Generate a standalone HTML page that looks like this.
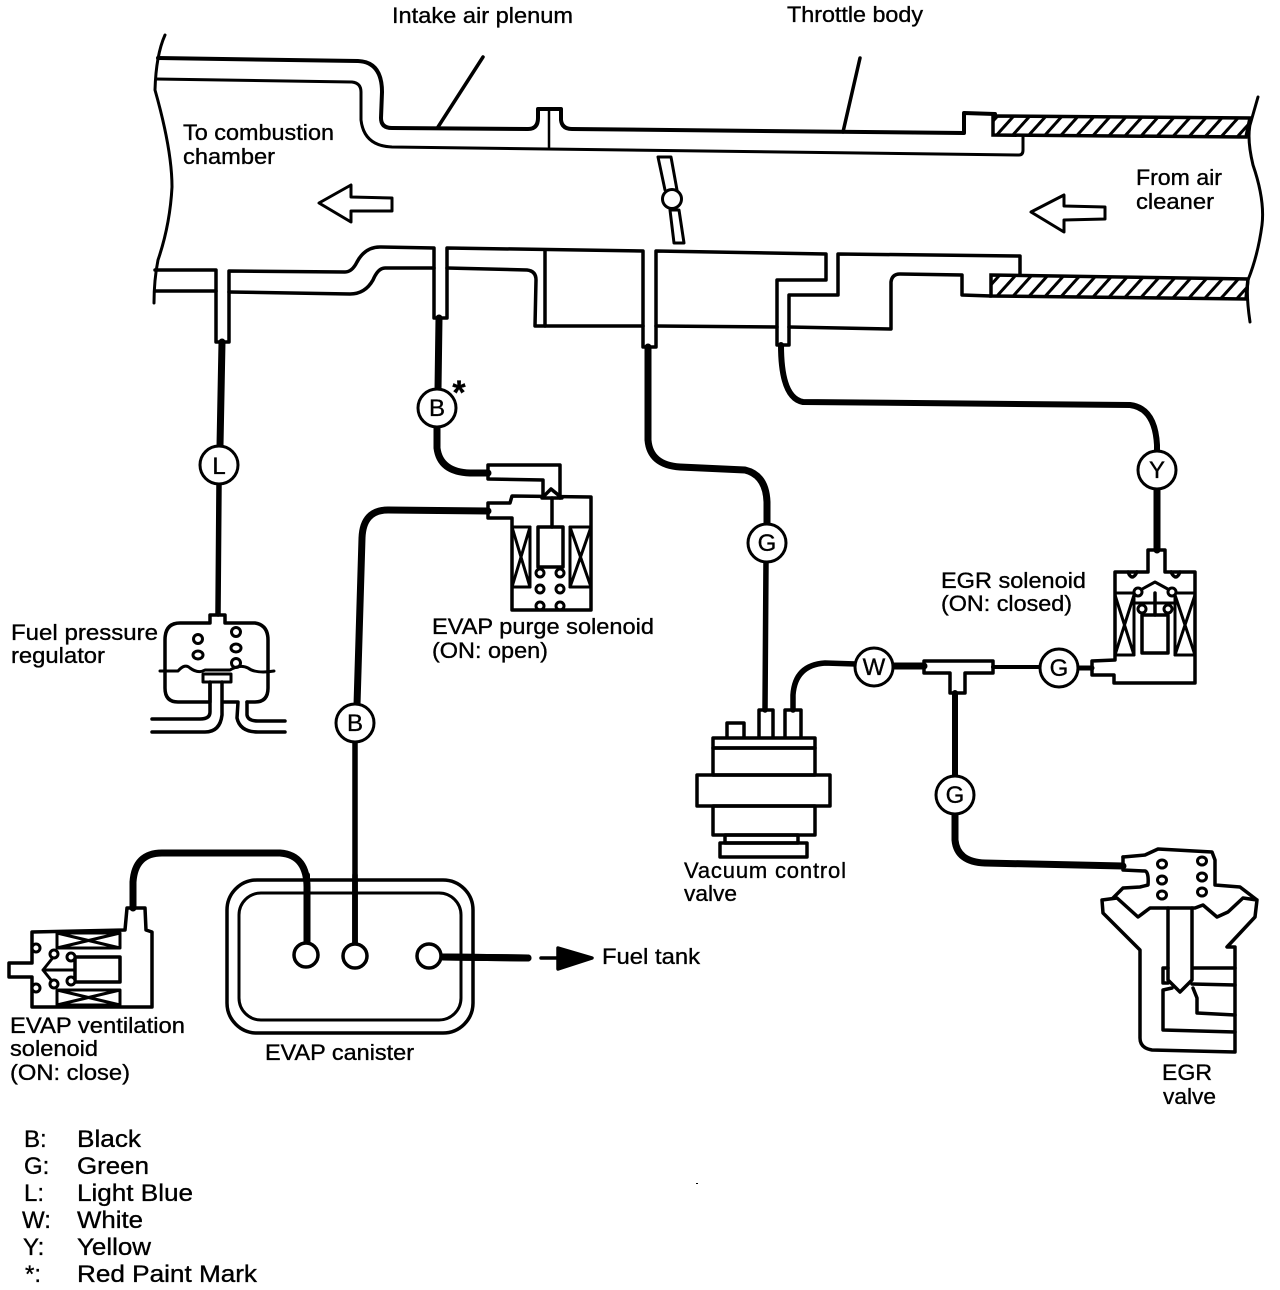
<!DOCTYPE html>
<html>
<head>
<meta charset="utf-8">
<style>
html,body{margin:0;padding:0;background:#fff;}
svg{display:block;}
text{font-family:"Liberation Sans",sans-serif;font-size:22px;fill:#000;stroke:#000;stroke-width:.35;}
.c text,text.c{text-anchor:middle;font-size:24px;}
</style>
</head>
<body>
<svg width="1280" height="1290" viewBox="0 0 1280 1290" xmlns="http://www.w3.org/2000/svg">
<defs>
<pattern id="h" width="12" height="12" patternUnits="userSpaceOnUse" patternTransform="rotate(42)">
<line x1="3" y1="0" x2="3" y2="12" stroke="#000" stroke-width="3"/>
</pattern>
</defs>
<rect width="1280" height="1290" fill="#fff"/>

<!-- Hatched duct -->
<path d="M993,116 L1250,118 L1246,137 L993,135Z" fill="url(#h)" stroke="#000" stroke-width="3.5"/>
<path d="M991,275 L1248,279 L1246,299 L991,296Z" fill="url(#h)" stroke="#000" stroke-width="3.5"/>

<g fill="none" stroke="#000" stroke-width="3.5" stroke-linejoin="round" stroke-linecap="round">
<!-- duct edges -->
<path d="M165,35 Q156,55 155,90 Q172,150 172,187 Q170,225 158,260 Q154,280 154,303" stroke-width="3"/>
<path d="M1258,97 L1250,125 Q1247,140 1253,165 Q1265,200 1262,225 Q1258,255 1248,280 Q1246,295 1250,322" stroke-width="3"/>
<!-- top wall -->
<path d="M158,58 L358,61 Q382,62 382,92 L381,118 Q381,128 392,128 L528,129 Q538,129 538,118 L538,109 L561,109 L561,120 Q562,129 572,129 L964,133 L964,113 L995,114" stroke-width="4"/>
<path d="M156,79 L352,82 Q361,83 361,92 L361,120 Q364,146 392,147 L1019,155 Q1023,155 1023,150 L1023,137" stroke-width="3"/>
<path d="M549,109 L549,147" stroke-width="2.5"/>
<!-- leaders -->
<path d="M483,57 L438,127"/>
<path d="M860,58 L843,132"/>
<!-- throttle -->
<path d="M658,157 L671,157 L677,190 M665,190 L658,157 M670,210 L679,210 L684,243 L674,243 L670,210" stroke-width="3"/>
<circle cx="672" cy="199" r="9.5" fill="#fff" stroke-width="3"/>
<!-- arrows -->
<path d="M319,203 L351,185 L351,197 L392,198 L392,211 L351,211 L351,222Z" stroke-width="3"/>
<path d="M1031,212 L1064,195 L1064,206 L1105,207 L1105,219 L1064,220 L1064,232Z" stroke-width="3"/>
<!-- bottom wall -->
<path d="M155,270 L216,270 L216,342 L229,342 L229,271 L345,272 Q352,272 357,262 Q365,247 380,247 L434,248 L434,318 L447,318 L447,248 L643,251 L643,347 L656,347 L656,251 L826,254 L826,280 L777,280 L777,345 L789,345 L789,295 L838,295 L838,254 L1020,256 L1020,275" stroke-width="3.5"/>
<path d="M155,291 L216,291 M229,292 L350,294 Q365,294 373,280 Q378,268 385,268 L434,268 M447,268 L527,270 Q536,271 536,280 L535,326 L643,326 M656,326 L777,327 M789,327 L891,329 L891,282 Q892,274 900,274 L962,275 L962,295 L991,296"/>
<path d="M545,251 L545,326"/>

<!-- Hoses -->
<g stroke-width="7">
<path d="M222,342 L220,446"/>
<path d="M219,484 L218,614" stroke-width="5.5"/>
<path d="M439,318 L438,390"/>
<path d="M437,425 L437,448 Q440,472 470,473 L488,473"/>
<path d="M488,511 L388,510 Q363,510 362,538 L357,705"/>
<path d="M355,741 L355,944" stroke-width="5.5"/>
<path d="M648,347 L648,440 Q650,465 680,467 L745,470 Q766,475 767,502 L767,525"/>
<path d="M766,561 L765,710" stroke-width="5.5"/>
<path d="M793,710 L793,695 Q795,665 825,663 L856,664" stroke-width="5.5"/>
<path d="M892,666 L924,666"/>
<path d="M993,667 L1041,667" stroke-width="4"/>
<path d="M1077,668 L1092,668" stroke-width="5"/>
<path d="M781,345 Q781,398 803,402 L1130,405 Q1155,408 1157,445 L1157,451" stroke-width="6"/>
<path d="M1157,488 L1157,550"/>
<path d="M955,693 L955,777" stroke-width="6"/>
<path d="M955,813 L955,840 Q957,862 985,863 L1123,866"/>
<path d="M133,908 L133,882 Q135,853 162,853 L280,853 Q308,855 307,890 L307,943"/>
<path d="M355,880 L355,944" stroke-width="5.5"/>
<path d="M443,957 L528,958" stroke-width="7"/>
</g>

<!-- Fuel pressure regulator -->
<path d="M210,682 L210,702 L178,702 Q165,702 165,688 L165,640 Q165,623 180,623 L210,623 L210,615 L225,615 L225,623 L255,623 Q268,625 268,640 L268,688 Q268,702 255,702 L247,702"/>
<path d="M160,671 L178,671 Q185,663 190,668 Q198,674 205,670 L230,670 Q240,664 248,668 Q256,674 274,671" stroke-width="3"/>
<path d="M203,674 L231,674 L231,682 L203,682Z" fill="#fff" stroke-width="3"/>
<path d="M210,682 L210,712 Q210,719 200,719 L152,719"/>
<path d="M222,682 L222,715 Q220,732 205,732 L152,732"/>
<path d="M224,702 L238,702 L237,718 Q240,732 258,732 L285,732"/>
<path d="M247,702 L247,715 Q248,721 258,721 L285,721"/>
<g stroke-width="3"><circle cx="198" cy="639" r="4.5"/><ellipse cx="198" cy="655" rx="5" ry="4"/><circle cx="236" cy="632" r="4.5"/><ellipse cx="236" cy="648" rx="5" ry="4"/><circle cx="236" cy="663" r="4.5"/></g>

<!-- EVAP purge solenoid -->
<path d="M488,465 L560,465 L560,498 M488,465 L488,479 L543,480 L543,496"/>
<path d="M488,503 L510,503 L512,496 L591,497 L591,610 L512,610 L512,518 L488,518Z"/>
<path d="M551,489 L562,498 L542,498Z" fill="#fff"/>
<path d="M552,498 L552,527"/>
<rect x="538" y="527" width="25" height="40"/>
<rect x="512" y="527" width="18" height="60" stroke-width="3"/>
<path d="M512,527 L530,587 M530,527 L512,587" stroke-width="3"/>
<rect x="570" y="527" width="21" height="60" stroke-width="3"/>
<path d="M570,527 L591,587 M591,527 L570,587" stroke-width="3"/>
<g stroke-width="3"><circle cx="540" cy="573" r="4"/><circle cx="560" cy="573" r="4"/><circle cx="540" cy="589" r="4"/><circle cx="560" cy="589" r="4"/><circle cx="540" cy="606" r="4"/><circle cx="560" cy="606" r="4"/></g>

<!-- Vacuum control valve -->
<path d="M727,737 L727,723 L744,723 L744,737"/>
<path d="M759,737 L759,710 L773,710 L773,737"/>
<path d="M785,737 L785,710 L801,710 L801,737"/>
<rect x="713" y="738" width="102" height="10"/>
<rect x="713" y="748" width="102" height="27"/>
<rect x="697" y="775" width="133" height="31"/>
<rect x="713" y="806" width="102" height="29"/>
<rect x="725" y="835" width="73" height="8"/>
<rect x="720" y="843" width="87" height="14"/>

<!-- T piece -->
<path d="M924,661 L993,661 L993,673 L965,673 L965,693 L950,693 L950,673 L924,673Z"/>

<!-- EGR solenoid -->
<path d="M1148,572 L1148,550 L1165,550 L1165,572 L1195,572 L1195,683 L1114,683 L1114,675 L1092,675 L1092,661 L1115,660 L1115,572Z"/>
<path d="M1115,593 L1135,593 L1155,582 L1175,593 L1195,593" stroke-width="3"/>
<path d="M1155,593 L1155,615"/>
<path d="M1142,609 L1168,609" stroke-width="0"/>
<rect x="1142" y="615" width="26" height="38"/>
<path d="M1134,593 L1134,655 M1175,593 L1175,655 M1115,655 L1134,655 M1175,655 L1195,655" stroke-width="3"/>
<path d="M1115,595 L1134,655 M1134,595 L1115,655" stroke-width="3"/>
<path d="M1175,595 L1195,655 M1195,595 L1175,655" stroke-width="3"/>
<path d="M1135,603 L1175,603" stroke-width="3"/>
<g stroke-width="3" fill="#fff"><circle cx="1142" cy="609" r="4"/><circle cx="1168" cy="609" r="4"/><circle cx="1138" cy="592" r="4"/><circle cx="1172" cy="592" r="4"/></g>
<path d="M1128,572 Q1132,582 1137,572 M1171,572 Q1176,582 1180,572" stroke-width="3.5"/>

<!-- EGR valve -->
<path d="M1123,857 L1145,855 L1158,849 L1212,852 L1215,860 L1215,885 L1240,887 L1257,900 L1255,917 L1227,947 L1235,947 L1235,1052 L1152,1050 Q1140,1048 1140,1038 L1140,950 L1103,913 L1102,900 L1117,898 L1138,917 L1150,908 L1158,908 L1195,908 L1203,905 L1217,917 L1228,912 L1243,898 L1257,900"/>
<path d="M1123,857 L1123,870 L1145,871 Q1149,872 1148,885 L1140,887 L1123,888 L1113,898"/>
<path d="M1168,908 L1168,980 L1180,992 L1192,980 L1192,908"/>
<path d="M1193,968 L1235,968 M1192,984 L1235,985 M1193,988 L1197,998 L1197,1013 L1235,1015 M1172,988 L1163,990 L1163,1030 L1235,1032 M1168,968 L1163,968 L1163,983 L1168,983"/>
<g stroke-width="3"><ellipse cx="1162" cy="864" rx="4.5" ry="4"/><ellipse cx="1162" cy="880" rx="4.5" ry="4"/><ellipse cx="1162" cy="895" rx="4.5" ry="4"/><ellipse cx="1202" cy="861" rx="4.5" ry="4"/><ellipse cx="1202" cy="877" rx="4.5" ry="4"/><ellipse cx="1202" cy="892" rx="4.5" ry="4"/></g>

<!-- EVAP ventilation solenoid -->
<path d="M32,932 L125,930 L127,908 L145,908 L146,930 L152,932 L152,1007 L32,1007 L32,977 L9,977 L9,963 L32,963Z"/>
<path d="M57,933 L120,933 L120,948 L57,948Z M57,933 L120,948 M120,933 L57,948" stroke-width="3"/>
<path d="M57,990 L120,990 L120,1005 L57,1005Z M57,990 L120,1005 M120,990 L57,1005" stroke-width="3"/>
<rect x="75" y="957" width="45" height="25"/>
<path d="M55,955 L43,970 L55,985 M43,970 L75,970" stroke-width="3"/>
<g stroke-width="3" fill="#fff"><circle cx="54" cy="954" r="4"/><circle cx="54" cy="984" r="4"/><circle cx="71" cy="957" r="4"/><circle cx="71" cy="981" r="4"/><circle cx="36" cy="948" r="4"/><circle cx="36" cy="988" r="4"/></g>

<!-- Canister -->
<rect x="227" y="880" width="246" height="153" rx="30"/>
<rect x="239" y="893" width="222" height="127" rx="22" stroke-width="3"/>
<path d="M307,875 L307,943" stroke-width="6"/>
<path d="M355,875 L355,944" stroke-width="5.5"/>
<path d="M443,957 L528,958" stroke-width="7"/>
<circle cx="306" cy="955" r="12" fill="#fff"/>
<circle cx="355" cy="956" r="12" fill="#fff"/>
<circle cx="429" cy="956" r="12" fill="#fff"/>
<path d="M541,958 L562,958"/>
<path d="M558,948 L592,958 L558,969Z" fill="#000"/>

<!-- label circles -->
<g fill="#fff" stroke-width="3">
<circle cx="219" cy="465" r="19"/>
<circle cx="437" cy="408" r="19"/>
<circle cx="355" cy="723" r="19"/>
<circle cx="767" cy="543" r="19"/>
<circle cx="874" cy="667" r="19"/>
<circle cx="1059" cy="668" r="19"/>
<circle cx="955" cy="795" r="19"/>
<circle cx="1157" cy="470" r="19"/>
</g>
</g>

<!-- Circle letters -->
<g class="c">
<text x="219" y="474">L</text>
<text x="437" y="416">B</text>
<text x="355" y="731">B</text>
<text x="767" y="551">G</text>
<text x="874" y="675">W</text>
<text x="1059" y="676">G</text>
<text x="955" y="803">G</text>
<text x="1157" y="478">Y</text>
</g>
<text x="459" y="404" style="font-size:34px;font-weight:bold;text-anchor:middle">*</text>

<!-- Labels -->
<text x="392" y="23" textLength="181" lengthAdjust="spacingAndGlyphs">Intake air plenum</text>
<text x="787" y="22" textLength="136" lengthAdjust="spacingAndGlyphs">Throttle body</text>
<text x="183" y="140" textLength="151" lengthAdjust="spacingAndGlyphs">To combustion</text>
<text x="183" y="164" textLength="92" lengthAdjust="spacingAndGlyphs">chamber</text>
<text x="1136" y="185" textLength="86" lengthAdjust="spacingAndGlyphs">From air</text>
<text x="1136" y="209" textLength="78" lengthAdjust="spacingAndGlyphs">cleaner</text>
<text x="11" y="640" textLength="147" lengthAdjust="spacingAndGlyphs">Fuel pressure</text>
<text x="11" y="663" textLength="94" lengthAdjust="spacingAndGlyphs">regulator</text>
<text x="432" y="634" textLength="222" lengthAdjust="spacingAndGlyphs">EVAP purge solenoid</text>
<text x="432" y="658" textLength="116" lengthAdjust="spacingAndGlyphs">(ON: open)</text>
<text x="941" y="588" textLength="145" lengthAdjust="spacingAndGlyphs">EGR solenoid</text>
<text x="941" y="611" textLength="131" lengthAdjust="spacingAndGlyphs">(ON: closed)</text>
<text x="684" y="878" textLength="162" lengthAdjust="spacing">Vacuum control</text>
<text x="684" y="901" textLength="53" lengthAdjust="spacingAndGlyphs">valve</text>
<text x="10" y="1033" textLength="175" lengthAdjust="spacingAndGlyphs">EVAP ventilation</text>
<text x="10" y="1056" textLength="88" lengthAdjust="spacingAndGlyphs">solenoid</text>
<text x="10" y="1080" textLength="120" lengthAdjust="spacingAndGlyphs">(ON: close)</text>
<text x="265" y="1060" textLength="149" lengthAdjust="spacingAndGlyphs">EVAP canister</text>
<text x="602" y="964" textLength="98" lengthAdjust="spacingAndGlyphs">Fuel tank</text>
<text x="1162" y="1080" textLength="50" lengthAdjust="spacingAndGlyphs">EGR</text>
<text x="1163" y="1104" textLength="53" lengthAdjust="spacingAndGlyphs">valve</text>

<!-- Legend -->
<g>
<text x="24" y="1147" style="font-size:24px">B:</text><text x="77" y="1147" textLength="64" lengthAdjust="spacingAndGlyphs" style="font-size:24px">Black</text>
<text x="24" y="1174" style="font-size:24px">G:</text><text x="77" y="1174" textLength="72" lengthAdjust="spacingAndGlyphs" style="font-size:24px">Green</text>
<text x="24" y="1201" style="font-size:24px">L:</text><text x="77" y="1201" textLength="116" lengthAdjust="spacingAndGlyphs" style="font-size:24px">Light Blue</text>
<text x="22" y="1228" style="font-size:24px">W:</text><text x="77" y="1228" textLength="66" lengthAdjust="spacingAndGlyphs" style="font-size:24px">White</text>
<text x="23" y="1255" style="font-size:24px">Y:</text><text x="77" y="1255" textLength="74" lengthAdjust="spacingAndGlyphs" style="font-size:24px">Yellow</text>
<text x="25" y="1282" style="font-size:24px">*:</text><text x="77" y="1282" textLength="180" lengthAdjust="spacingAndGlyphs" style="font-size:24px">Red Paint Mark</text>
</g>
<rect x="696" y="1183" width="2" height="1" fill="#000"/>
</svg>
</body>
</html>
